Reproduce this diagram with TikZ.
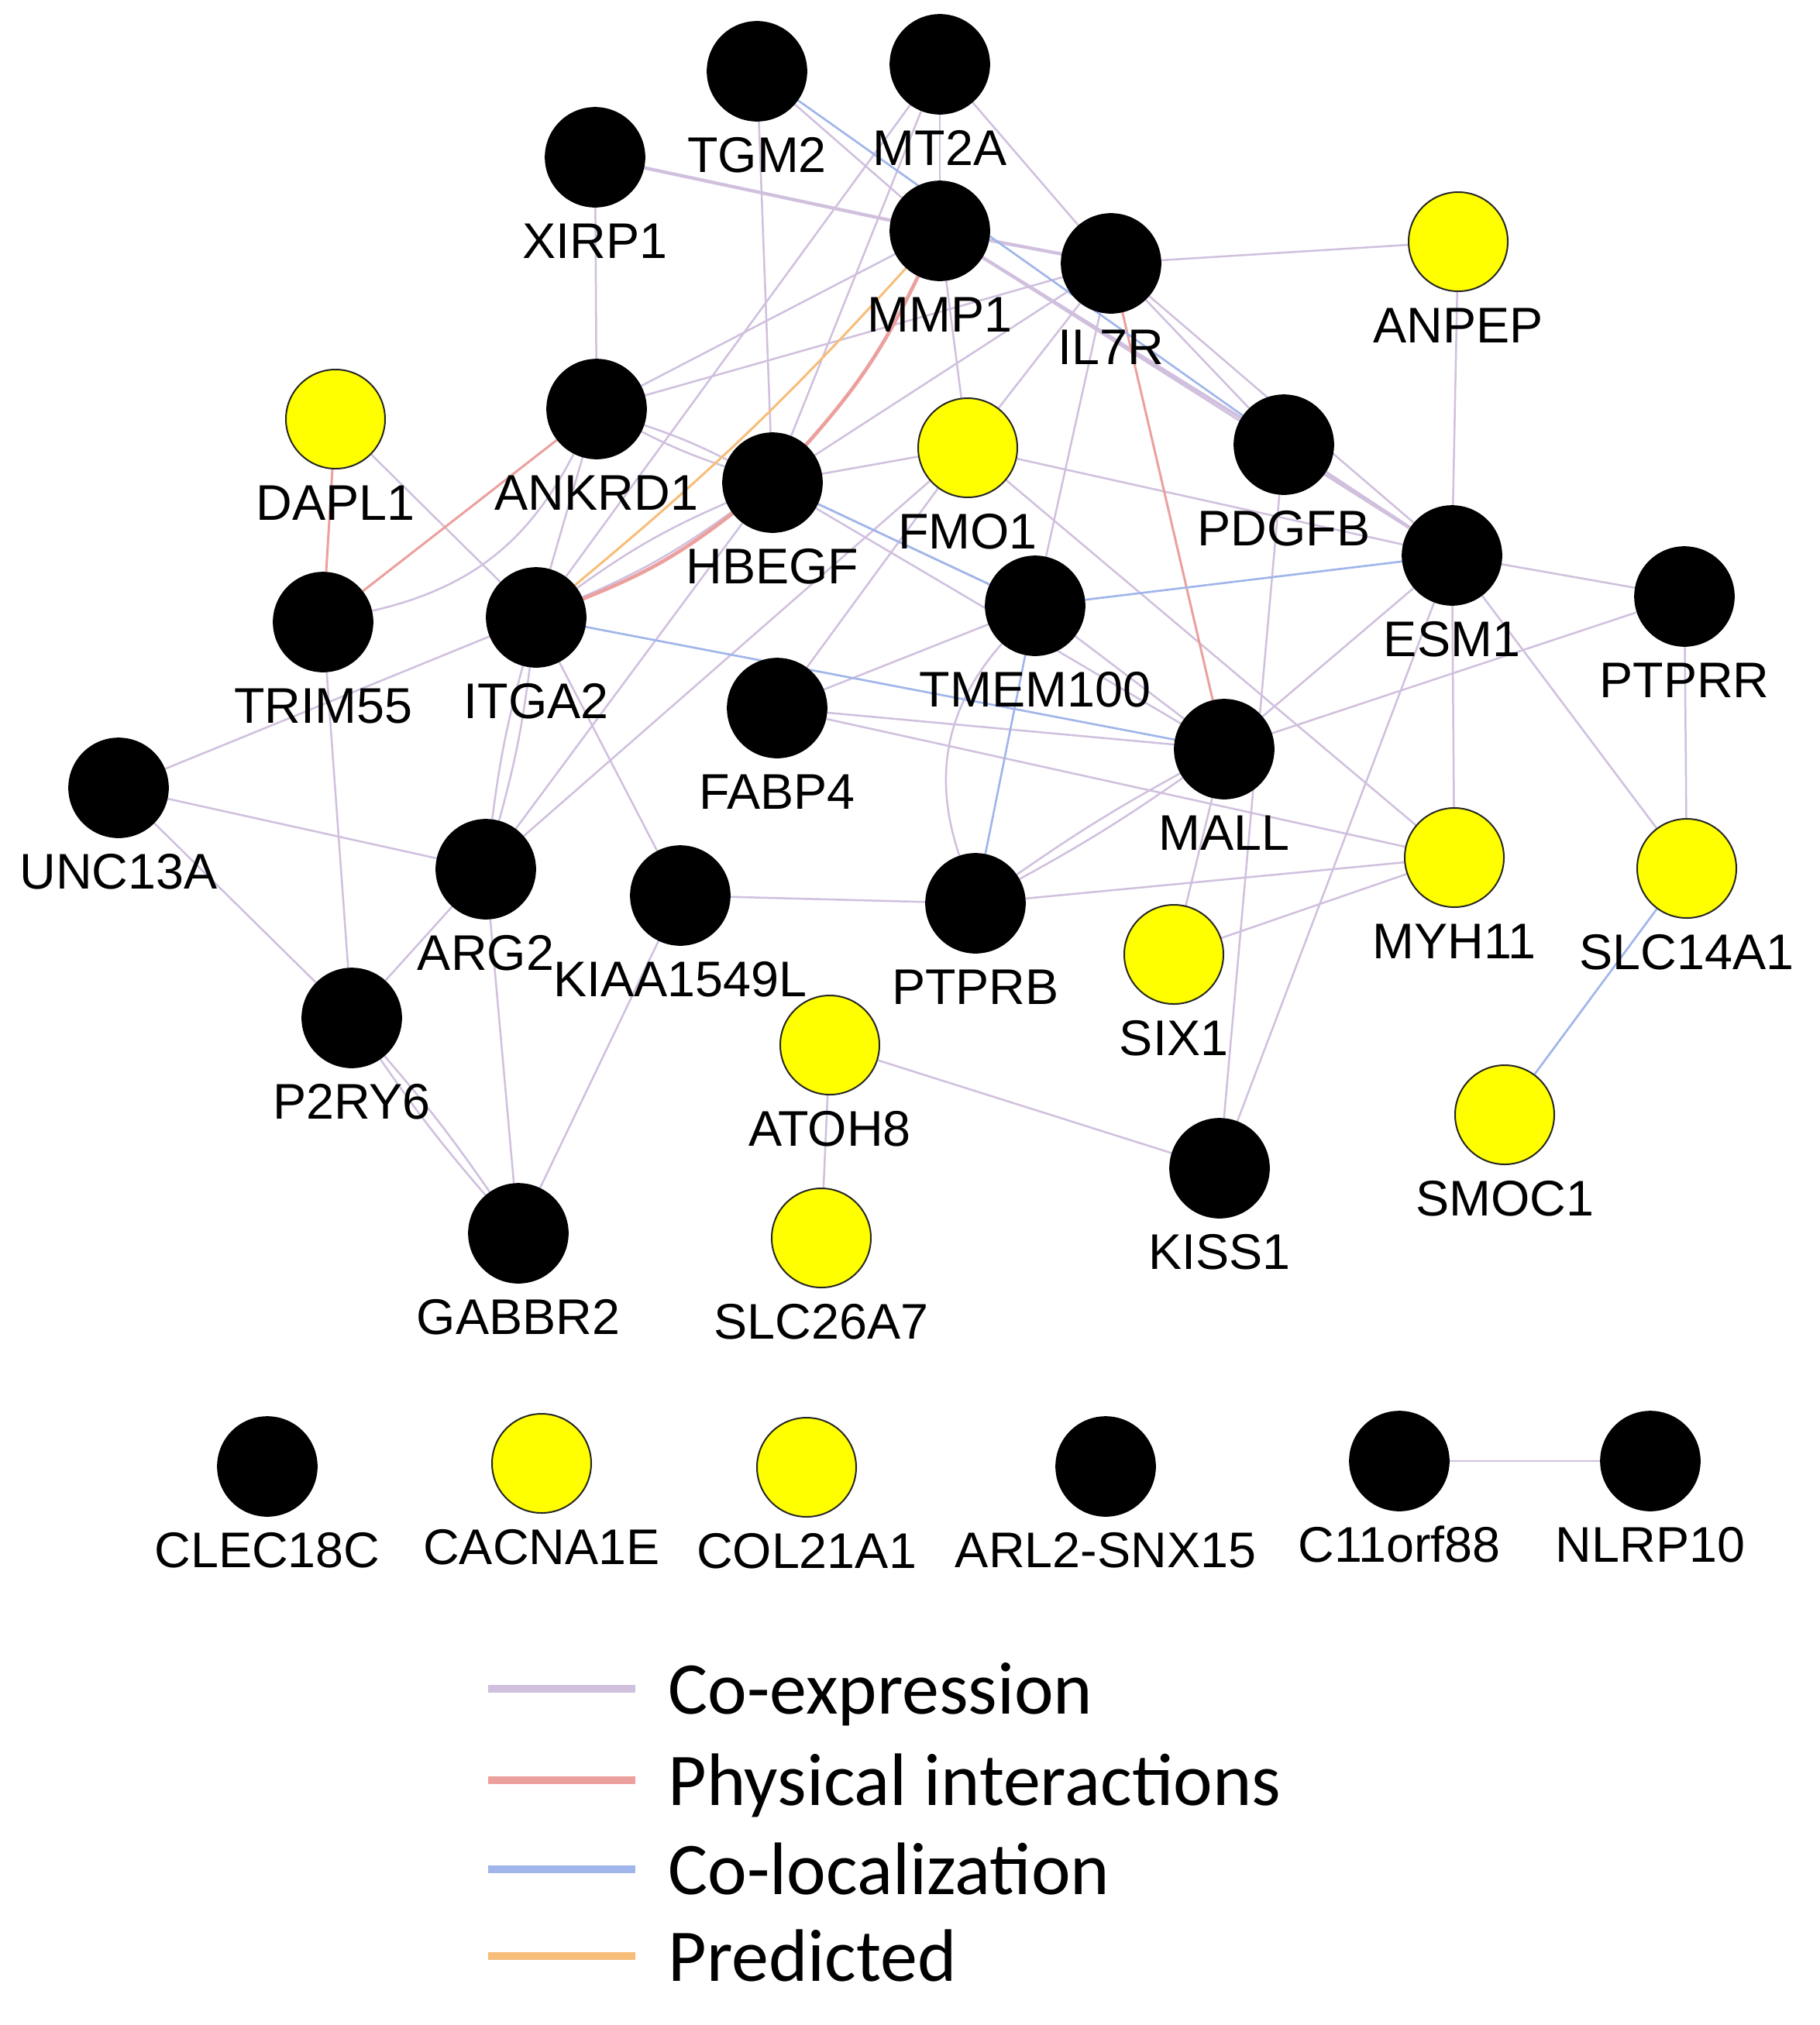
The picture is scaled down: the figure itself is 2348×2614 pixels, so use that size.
\documentclass[tikz,border=0pt]{standalone}
\usepackage{fontspec}
\setmainfont{Liberation Sans}
\newfontfamily\legfont{Carlito}
\usetikzlibrary{backgrounds}
\definecolor{coexp}{RGB}{208,192,222}
\definecolor{phys}{RGB}{236,160,158}
\definecolor{coloc}{RGB}{160,182,234}
\definecolor{pred}{RGB}{247,190,122}
\definecolor{gyel}{RGB}{255,255,0}
\tikzset{
 gblack/.style={circle, fill=black, draw=black, line width=0.5pt, minimum size=38.4pt, inner sep=0pt},
 gyellow/.style={circle, fill=gyel, draw=black!85, line width=0.6pt, minimum size=38.4pt, inner sep=0pt},
 glabel/.style={anchor=base, inner sep=0pt, font=\fontsize{19.4}{23}\selectfont},
 co/.style={draw=coexp, line width=0.75pt},
 cothick/.style={draw=coexp, line width=1.3pt},
 ph/.style={draw=phys, line width=0.9pt},
 phthick/.style={draw=phys, line width=1.4pt},
 cl/.style={draw=coloc, line width=0.8pt},
 pr/.style={draw=pred, line width=0.9pt},
 legline/.style={line width=3pt},
 legtext/.style={anchor=base west, inner sep=0pt, font=\legfont\fontsize{28.8}{34}\selectfont},
}
\newcommand\mkgene[5]{%
 \node[#4] (#1) at (#2,#3) {};
 \node[glabel] (#1-l) at (#2,{#3+130}) {#5};}
\begin{document}
\begin{tikzpicture}[x=0.3pt,y=-0.3pt]
\useasboundingbox (0,0) rectangle (2348,2614);
% nodes
\mkgene{tgm}{977}{92}{gblack}{TGM2}
\mkgene{mt}{1213}{83}{gblack}{MT2A}
\mkgene{xirp}{768}{203}{gblack}{XIRP1}
\mkgene{mmp}{1213}{298}{gblack}{MMP1}
\mkgene{il}{1434}{340}{gblack}{IL7R}
\mkgene{anpep}{1882}{312}{gyellow}{ANPEP}
\mkgene{dapl}{433}{541}{gyellow}{DAPL1}
\mkgene{ankrd}{770}{528}{gblack}{ANKRD1}
\mkgene{hbegf}{997}{623}{gblack}{HBEGF}
\mkgene{fmo}{1249}{578}{gyellow}{FMO1}
\mkgene{pdgfb}{1657}{574}{gblack}{PDGFB}
\mkgene{esm}{1874}{717}{gblack}{ESM1}
\mkgene{trim}{417}{803}{gblack}{TRIM55}
\mkgene{itga}{692}{797}{gblack}{ITGA2}
\mkgene{tmem}{1336}{782}{gblack}{TMEM100}
\mkgene{ptprr}{2174}{770}{gblack}{PTPRR}
\mkgene{fabp}{1003}{914}{gblack}{FABP4}
\mkgene{mall}{1580}{967}{gblack}{MALL}
\mkgene{unc}{153}{1017}{gblack}{UNC13A}
\mkgene{arg}{627}{1122}{gblack}{ARG2}
\mkgene{kiaa}{878}{1156}{gblack}{KIAA1549L}
\mkgene{ptprb}{1259}{1166}{gblack}{PTPRB}
\mkgene{myh}{1877}{1107}{gyellow}{MYH11}
\mkgene{slcf}{2177}{1121}{gyellow}{SLC14A1}
\mkgene{six}{1515}{1232}{gyellow}{SIX1}
\mkgene{ptwo}{454}{1314}{gblack}{P2RY6}
\mkgene{atoh}{1071}{1349}{gyellow}{ATOH8}
\mkgene{smoc}{1942}{1439}{gyellow}{SMOC1}
\mkgene{kiss}{1574}{1508}{gblack}{KISS1}
\mkgene{gabbr}{669}{1592}{gblack}{GABBR2}
\mkgene{slcs}{1060}{1598}{gyellow}{SLC26A7}
\mkgene{clec}{345}{1893}{gblack}{CLEC18C}
\mkgene{cacna}{699}{1889}{gyellow}{CACNA1E}
\mkgene{colt}{1041}{1894}{gyellow}{COL21A1}
\mkgene{arl}{1427}{1893}{gblack}{ARL2-SNX15}
\mkgene{celf}{1806}{1886}{gblack}{C11orf88}
\mkgene{nlrp}{2130}{1886}{gblack}{NLRP10}
% legend
\coordinate (la1) at (630,2180); \coordinate (lb1) at (820,2180);
\coordinate (la2) at (630,2298); \coordinate (lb2) at (820,2298);
\coordinate (la3) at (630,2413); \coordinate (lb3) at (820,2413);
\coordinate (la4) at (630,2525); \coordinate (lb4) at (820,2525);
\draw[legline, draw=coexp] (la1) -- (lb1);
\draw[legline, draw=phys] (la2) -- (lb2);
\draw[legline, draw=coloc] (la3) -- (lb3);
\draw[legline, draw=pred] (la4) -- (lb4);
\node[legtext] (lt1) at (862,2212) {Co-expression};
\node[legtext] (lt2) at (862,2330) {Physical interactions};
\node[legtext] (lt3) at (862,2445) {Co-localization};
\node[legtext] (lt4) at (862,2557) {Predicted};
% edges
\begin{pgfonlayer}{background}
\fill[white] (0,0) rectangle (2348,2614);
% co-expression
\draw[cothick] (xirp) -- (mmp);
\draw[co] (xirp) -- (ankrd);
\draw[co] (tgm) -- (hbegf);
\draw[co] (tgm) -- (mmp);
\draw[co] (mt) -- (itga);
\draw[co] (mt) -- (mmp);
\draw[co] (mt) -- (il);
\draw[co] (mt) -- (hbegf);
\draw[cothick] (mmp) -- (il);
\draw[co] (mmp) -- (ankrd);
\draw[co] (mmp) -- (fmo);
\draw[cothick] (mmp) -- (pdgfb);
\draw[co] (mmp) -- (esm);
\draw[co] (il) -- (anpep);
\draw[co] (il) -- (pdgfb);
\draw[co] (il) -- (esm);
\draw[co] (il) -- (tmem);
\draw[co] (il) -- (fmo);
\draw[co] (il) -- (hbegf);
\draw[co] (il) -- (ankrd);
\draw[co] (dapl) -- (itga);
\draw[co] (trim) to[bend right=25] (ankrd);
\draw[co] (trim) -- (ptwo);
\draw[co] (unc) -- (itga);
\draw[co] (unc) -- (arg);
\draw[co] (unc) -- (ptwo);
\draw[co] (itga) -- (ankrd);
\draw[co] (itga) to[bend left=6] (hbegf);
\draw[co] (itga) to[bend right=6] (hbegf);
\draw[co] (itga) to[bend left=4] (arg);
\draw[co] (itga) to[bend right=4] (arg);
\draw[co] (itga) -- (kiaa);
\draw[co] (ankrd) to[bend left=4] (hbegf);
\draw[co] (ankrd) to[bend right=4] (hbegf);
\draw[co] (hbegf) -- (fmo);
\draw[co] (hbegf) -- (arg);
\draw[co] (hbegf) -- (tmem);
\draw[co] (hbegf) -- (mall);
\draw[co] (fmo) -- (esm);
\draw[co] (fmo) -- (myh);
\draw[co] (fmo) -- (fabp);
\draw[co] (fmo) -- (arg);
\draw[cothick] (pdgfb) -- (esm);
\draw[co] (pdgfb) -- (kiss);
\draw[co] (esm) -- (anpep);
\draw[co] (esm) -- (ptprr);
\draw[co] (esm) -- (myh);
\draw[co] (esm) -- (slcf);
\draw[co] (esm) -- (mall);
\draw[co] (esm) -- (kiss);
\draw[co] (tmem) -- (fabp);
\draw[co] (tmem) to[bend right=30] (ptprb);
\draw[co] (tmem) -- (mall);
\draw[co] (fabp) -- (mall);
\draw[co] (fabp) -- (myh);
\draw[co] (mall) -- (ptprr);
\draw[co] (mall) to[bend left=3] (ptprb);
\draw[co] (mall) to[bend right=3] (ptprb);
\draw[co] (mall) -- (six);
\draw[co] (ptprb) -- (kiaa);
\draw[co] (ptprb) -- (myh);
\draw[co] (six) -- (myh);
\draw[co] (kiss) -- (atoh);
\draw[co] (atoh) -- (slcs);
\draw[co] (ptprr) -- (slcf);
\draw[co] (ptwo) -- (arg);
\draw[co] (ptwo) to[bend left=3] (gabbr);
\draw[co] (ptwo) to[bend right=3] (gabbr);
\draw[co] (gabbr) -- (arg);
\draw[co] (gabbr) -- (kiaa);
\draw[co] (celf) -- (nlrp);
% physical interactions
\draw[ph] (il) -- (mall);
\draw[phthick] (mmp) to[bend left=8] (hbegf);
\draw[phthick] (itga) to[bend right=8] (hbegf);
\draw[ph] (dapl) -- (trim);
\draw[ph] (trim) -- (ankrd);
% co-localization
\draw[cl] (tgm) -- (pdgfb);
\draw[cl] (hbegf) -- (tmem);
\draw[cl] (itga) -- (mall);
\draw[cl] (tmem) -- (esm);
\draw[cl] (tmem) -- (ptprb);
\draw[cl] (slcf) -- (smoc);
% predicted
\draw[pr] (itga) to[bend right=4] (mmp);
\end{pgfonlayer}
\end{tikzpicture}
\end{document}
